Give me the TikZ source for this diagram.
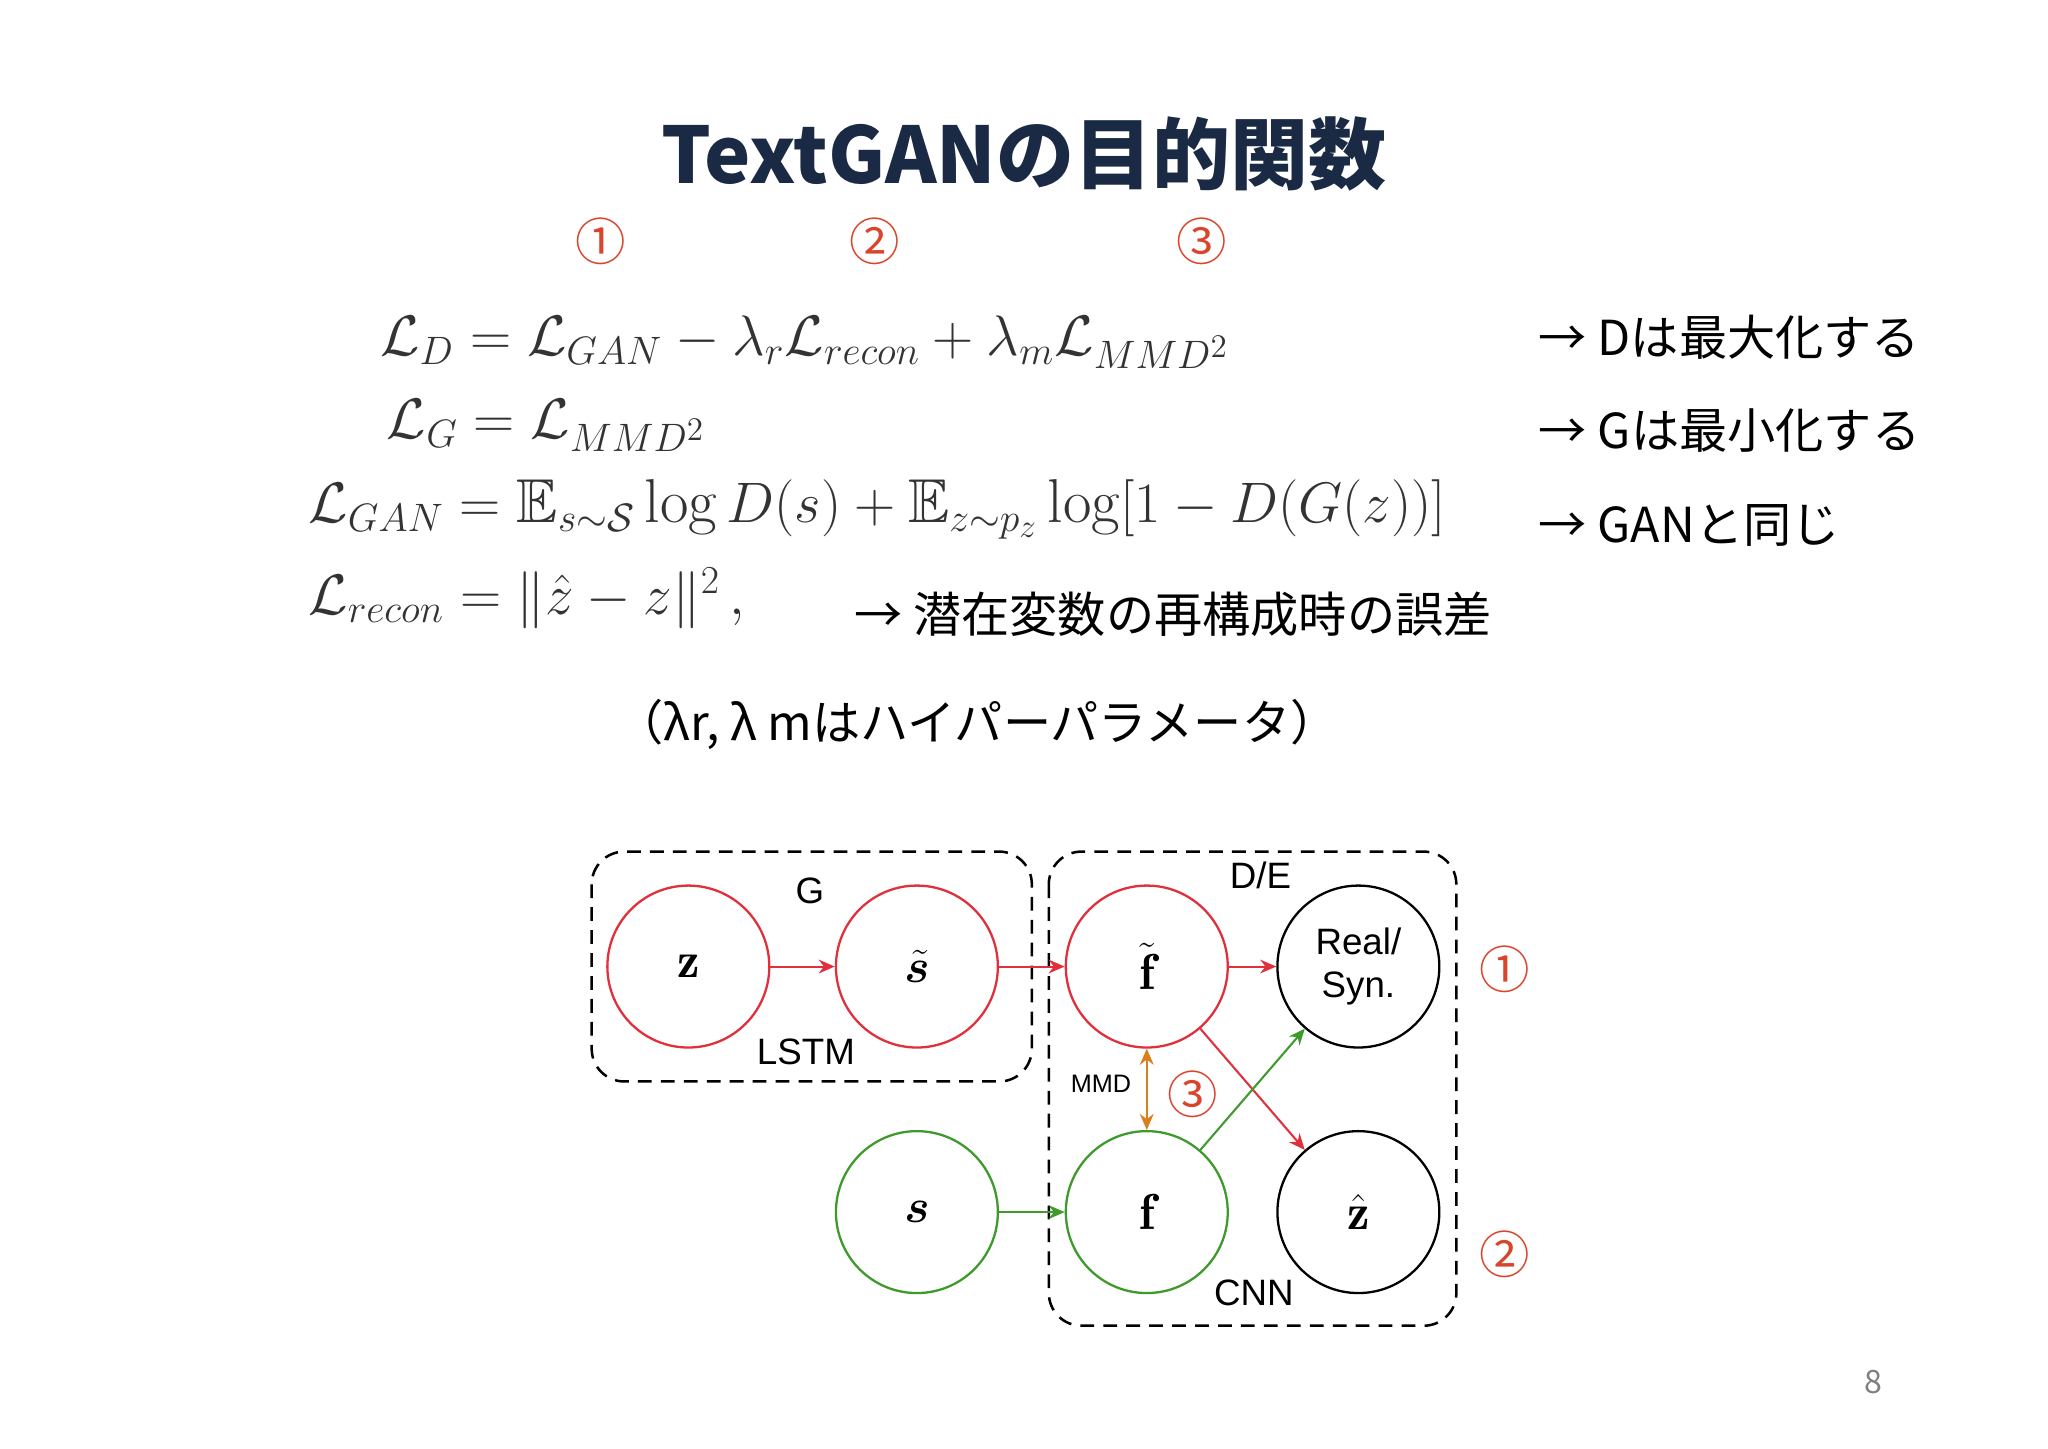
\documentclass[tikz,border=0pt]{standalone}
\usepackage{amsmath,amssymb,bm}
\usepackage{fontspec}
\newfontfamily\jp{Noto Sans CJK JP}
\newfontfamily\hv{Liberation Sans}
\usetikzlibrary{arrows.meta}
\definecolor{navy}{HTML}{1A2A44}
\definecolor{numred}{HTML}{D9452B}
\definecolor{cred}{HTML}{E0303C}
\definecolor{cgreen}{HTML}{3E9A2A}
\definecolor{corange}{HTML}{D9801E}
\begin{document}
\begin{tikzpicture}[x=0.02cm,y=-0.02cm,
 num/.style={font=\jp\fontsize{22}{24}\selectfont,text=numred},
 rt/.style={font=\jp\fontsize{21}{24}\selectfont,anchor=west,text=black},
 eq/.style={font=\fontsize{27}{30}\selectfont,anchor=west,text=black!80},
 circ/.style={circle,draw,line width=1pt,minimum size=2.48cm,inner sep=0pt,font=\fontsize{22}{24}\selectfont},
 lab/.style={font=\hv\fontsize{16}{18}\selectfont},
 box/.style={draw,line width=1.1pt,rounded corners=0.5cm,dash pattern=on 6pt off 4pt},
 ar/.style={-{Stealth[length=7pt,width=6pt]},line width=0.9pt}]
\useasboundingbox (0,0) rectangle (1568,1109);
\node[font=\jp\bfseries\fontsize{34}{38}\selectfont,text=navy] (title) at (784,118) {TextGANの目的関数};
\node[num] (n1) at (460,185) {①};
\node[num] (n2) at (670,185) {②};
\node[num] (n3) at (920,185) {③};
\node[eq] (e1) at (285,262) {$\mathcal{L}_D=\mathcal{L}_{GAN}-\lambda_r\mathcal{L}_{recon}+\lambda_m\mathcal{L}_{MMD^2}$};
\node[eq] (e2) at (290,326) {$\mathcal{L}_G=\mathcal{L}_{MMD^2}$};
\node[eq] (e3) at (230,390) {$\mathcal{L}_{GAN}=\mathbb{E}_{s\sim\mathcal{S}}\log D(s)+\mathbb{E}_{z\sim p_z}\log[1-D(G(z))]$};
\node[eq] (e4) at (230,458) {$\mathcal{L}_{recon}=\|\hat{z}-z\|^2\,,$};
\node[rt] (r1) at (1172,258) {→ Dは最大化する};
\node[rt] (r2) at (1172,330) {→ Gは最小化する};
\node[rt] (r3) at (1172,402) {→ GANと同じ};
\node[rt] (r4) at (648,470) {→ 潜在変数の再構成時の誤差};
\node[rt,anchor=center] (hp) at (748,555) {（λr, λ mはハイパーパラメータ）};
\node[font=\jp\fontsize{14}{16}\selectfont,text=gray] (pg) at (1434,1058) {8};
% diagram
\draw[box] (453,652) rectangle (790,828);
\draw[box] (803,652) rectangle (1115,1015);
\node[circ,draw=cred] (z) at (527,740) {$\mathbf{z}$};
\node[circ,draw=cred] (st) at (702,740) {$\tilde{\bm{s}}$};
\node[circ,draw=cred] (ft) at (878,740) {$\tilde{\mathbf{f}}$};
\node[circ,draw=black,font=\hv\fontsize{16}{19}\selectfont,align=center] (rs) at (1040,740) {Real/\\Syn.};
\node[circ,draw=cgreen] (s) at (702,928) {$\bm{s}$};
\node[circ,draw=cgreen] (f) at (878,928) {$\mathbf{f}$};
\node[circ,draw=black] (zh) at (1040,928) {$\hat{\mathbf{z}}$};
\node[lab] (lg) at (620,682) {G};
\node[lab] (ll) at (617,805) {LSTM};
\node[lab] (lde) at (965,670) {D/E};
\node[lab] (lc) at (960,990) {CNN};
\node[font=\hv\fontsize{11}{13}\selectfont] (lm) at (843,830) {MMD};
\node[num] (d1) at (1152,742) {①};
\node[num] (d3) at (913,838) {③};
\node[num] (d2) at (1152,960) {②};
\draw[ar,draw=cred,fill=cred] (z) -- (st);
\draw[ar,draw=cred,fill=cred] (st) -- (ft);
\draw[ar,draw=cred,fill=cred] (ft) -- (rs);
\draw[ar,draw=cred,fill=cred] (ft) -- (zh);
\draw[ar,draw=cgreen,fill=cgreen] (s) -- (f);
\draw[ar,draw=cgreen,fill=cgreen] (f) -- (rs);
\draw[{Stealth[length=7pt,width=6pt]}-{Stealth[length=7pt,width=6pt]},line width=1pt,draw=corange,fill=corange] (ft) -- (f);
\end{tikzpicture}
\end{document}
